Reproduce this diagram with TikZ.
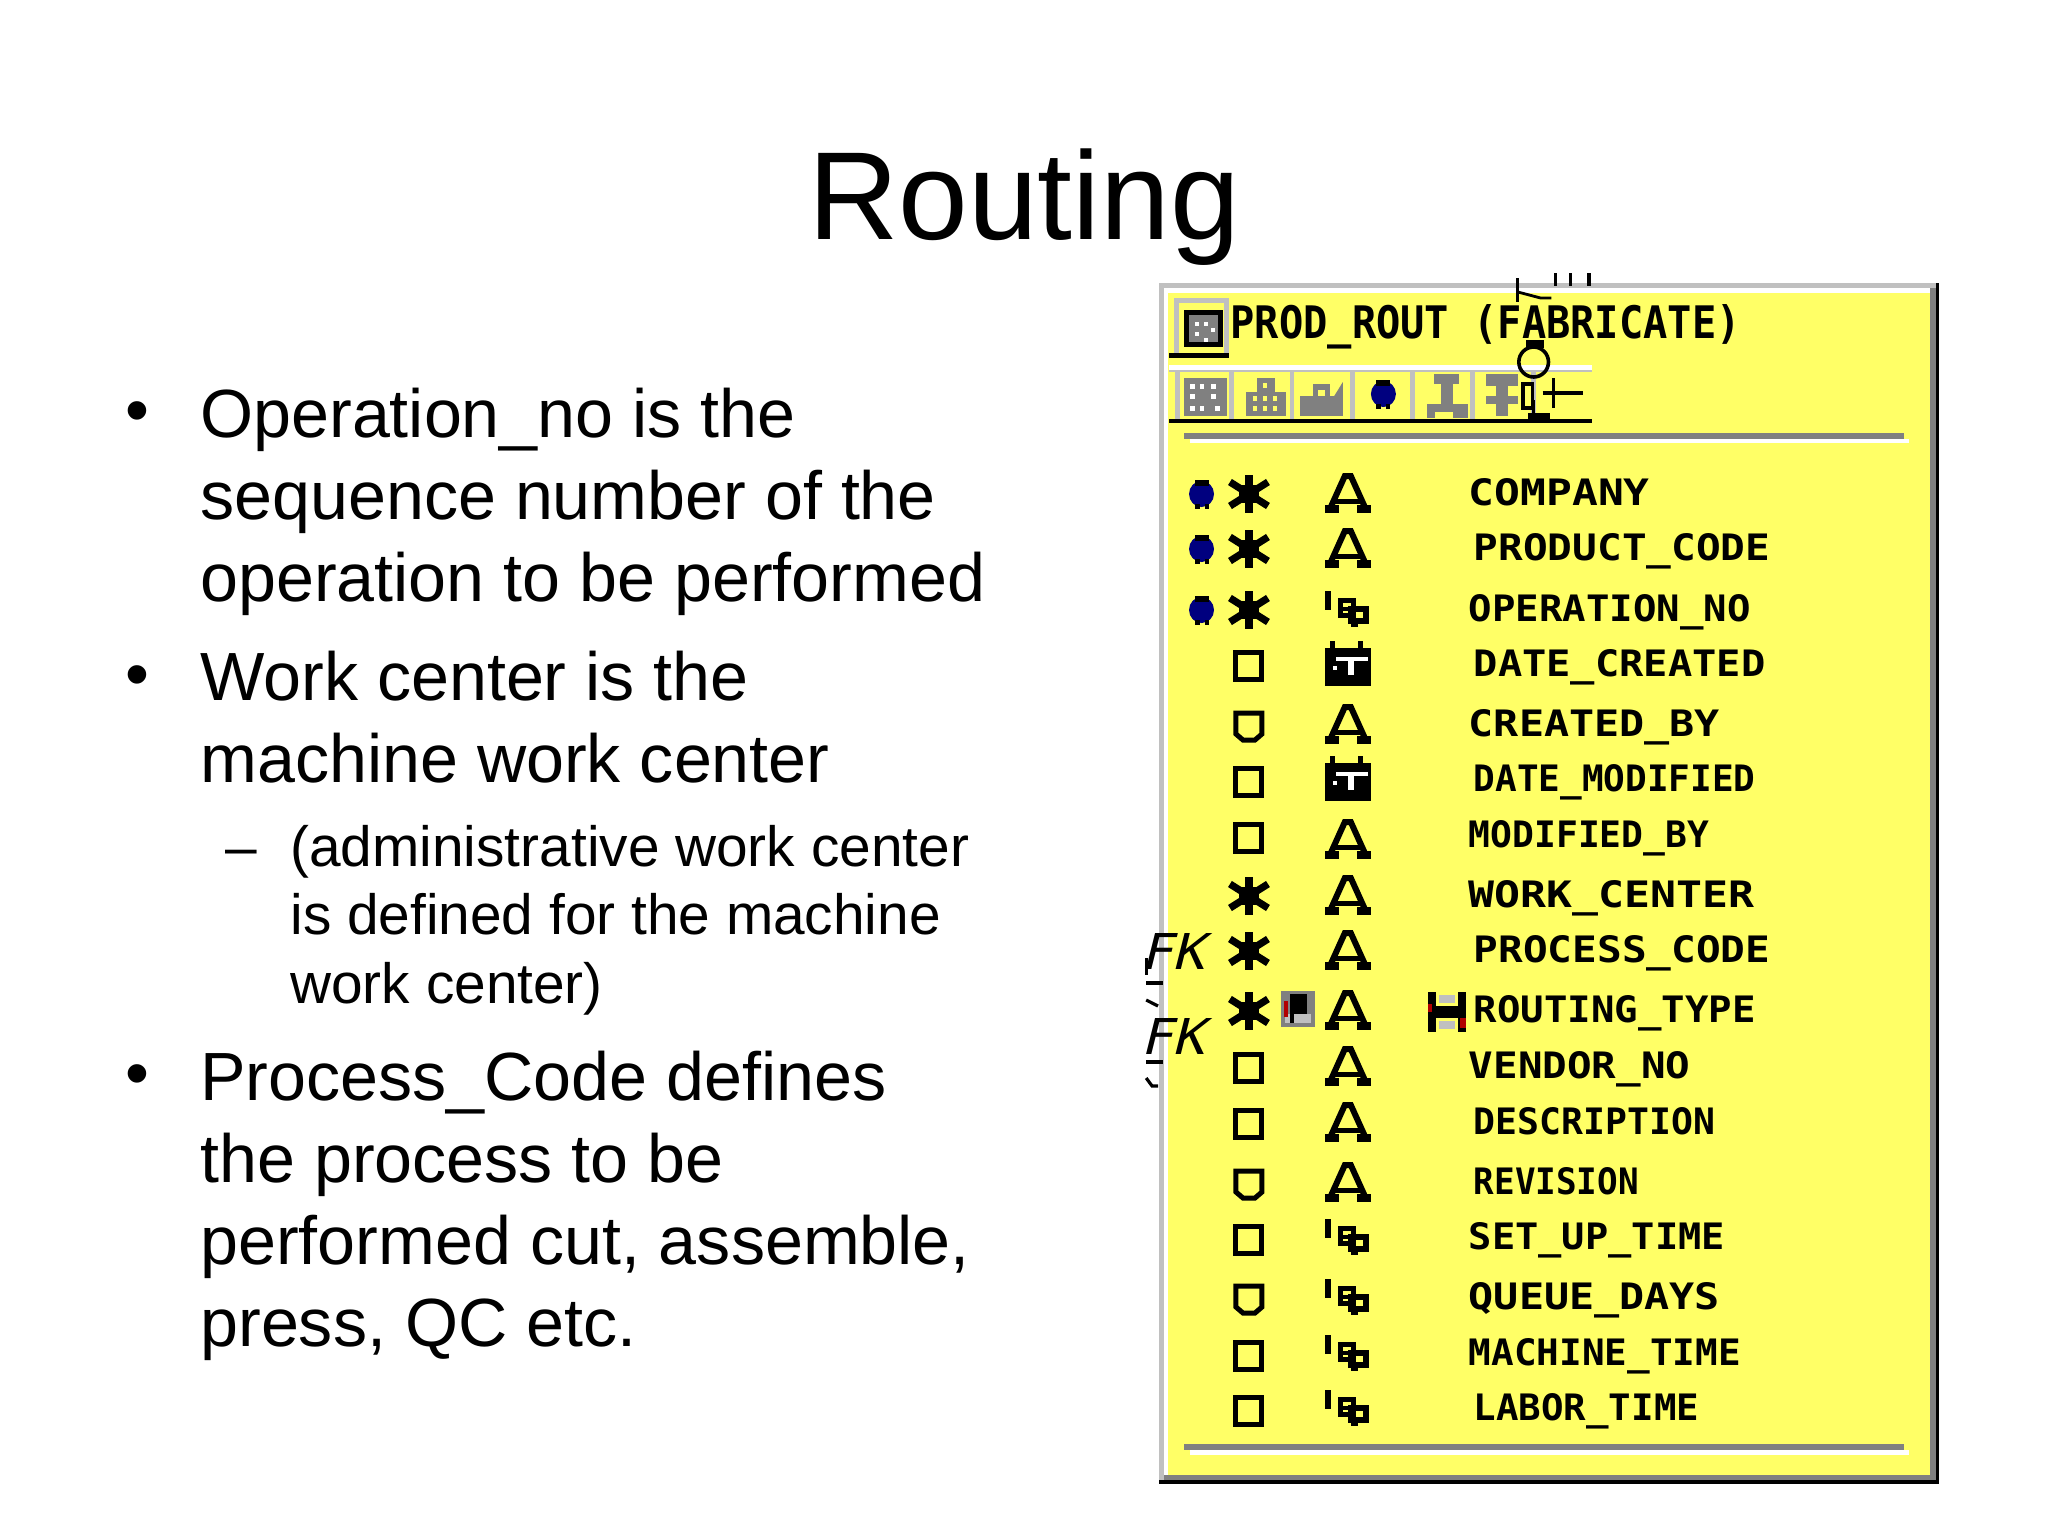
\documentclass[tikz,border=0pt]{standalone}
\usepackage{fontspec}
\usepackage{graphicx}
\setmainfont{Liberation Sans}
\newfontfamily\fldfont{DejaVu Sans Mono}
\definecolor{panelY}{HTML}{FFFF66}
\definecolor{navyD}{HTML}{00007F}
\definecolor{gM}{HTML}{808080}
\definecolor{gL}{HTML}{C0C0C0}
\newcommand{\fieldrow}[5]{\node[fld] (#1) at (#2-2,#4+13) {\resizebox{0.9885\dimexpr #3pt/2-#2pt/2+1pt\relax}{13.5pt}{\fldfont\bfseries #5}};}
\newcommand{\bodyline}[4]{\node[body] (#1) at (#2,#3) {#4};}
\newcommand{\subline}[4]{\node[subbody] (#1) at (#2,#3) {#4};}
\tikzset{
 fld/.style={anchor=base west,inner sep=0pt,text=black},
 body/.style={anchor=base west,inner sep=0pt,font=\fontsize{34.1}{40}\selectfont,text=black},
 subbody/.style={anchor=base west,inner sep=0pt,font=\fontsize{28.4}{34}\selectfont,text=black},
 titletext/.style={anchor=base,inner sep=0pt,font=\fontsize{62.6}{70}\selectfont,text=black},
 fkmark/.style={anchor=base west,inner sep=0pt,text=black},
 stroke5/.style={draw=black,line width=2.5pt,miter limit=10},
 stroke3/.style={draw=black,line width=1.6pt},
 icoA/.pic={
  \draw[stroke5,line width=3pt] (-17,14)--(-3,-17)--(3,-17)--(17,14);
  \draw[stroke5] (-13,8)--(13,8);
  \fill[black] (-23,12) rectangle (-9,20);
  \fill[black] (9,12) rectangle (23,20);
 },
 icoNum/.pic={
  \fill[black] (-23,-18) rectangle (-17,1);
  \draw[stroke3,line width=2.5pt] (-7,-9) rectangle (6,6);
  \draw[stroke3,line width=3pt] (3,0) rectangle (18,12);
  \fill[black] (3,12) rectangle (10,18);
  \fill[black] (-7,-2) rectangle (6,2);
 },
 icoDate/.pic={
  \fill[black] (-23,-15) rectangle (23,23);
  \fill[black] (-18,-22) rectangle (-13,-15);
  \fill[black] (10,-22) rectangle (15,-15);
  \fill[white] (-12,-6) rectangle (20,-2);
  \fill[white] (0,-2) rectangle (6,12);
  \fill[white] (-15,3) rectangle (-11,7);
 },
 icoSq/.pic={\draw[stroke5] (-13,-13) rectangle (13,14);},
 icoQ/.pic={\draw[stroke5] (-13,-13)--(13,-13)--(13,8)--(6,14)--(-6,14)--(-13,8)--cycle;},
 icoStar/.pic={
  \draw[stroke5,line width=3.6pt] (0,-19)--(0,19);
  \draw[stroke5,line width=3.6pt] (-19,-12)--(19,12);
  \draw[stroke5,line width=3.6pt] (-19,12)--(19,-12);
  \fill[black] (-10,-9) rectangle (10,9);
 },
 icoDot/.pic={
  \fill[navyD] (0,0) ellipse (12.5 and 13);
  \fill[black] (-7,-14) rectangle (7,-8);
  \fill[black] (-7,10) rectangle (-2,15);
  \fill[black] (3,10) rectangle (7,15);
 },
 icoDisk/.pic={
  \fill[gM] (-17,-18) rectangle (17,18);
  \fill[gL] (-13,5) rectangle (13,14);
  \fill[black] (-8,-15) rectangle (9,5);
  \fill[black] (-8,5) rectangle (-4,14);
  \fill[red!70!black] (-14,-8) rectangle (-10,8);
 },
 icoH/.pic={
  \fill[black] (-19,-20) rectangle (-11,20);
  \fill[black] (11,-20) rectangle (19,20);
  \fill[black] (-11,-6) rectangle (11,6);
  \fill[gL] (-8,-17) rectangle (8,-9);
  \fill[gL] (-8,9) rectangle (8,17);
  \fill[red!70!black] (-19,-8) rectangle (-15,0);
  \fill[red!70!black] (13,6) rectangle (19,16);
 },
}
\begin{document}
\begin{tikzpicture}[x=0.5pt,y=-0.5pt]
\useasboundingbox (0,0) rectangle (2048,1536);
\fill[white] (0,0) rectangle (2048,1536);
% title and text
\node[titletext] (ttl) at (1024,239) {Routing};
\node[body] (b1) at (125,433) {•};
\bodyline{l1}{200}{437}{Operation\_no is the}
\bodyline{l2}{200}{519}{sequence number of the}
\bodyline{l3}{200}{601}{operation to be performed}
\node[body] (b2) at (125,697) {•};
\bodyline{l4}{200}{700}{Work center is the}
\bodyline{l5}{200}{782}{machine work center}
\node[subbody] (d1) at (225,866) {–};
\subline{s1}{290}{866}{(administrative work center}
\subline{s2}{290}{934}{is defined for the machine}
\subline{s3}{290}{1003}{work center)}
\node[body] (b3) at (125,1096) {•};
\bodyline{l6}{200}{1100}{Process\_Code defines}
\bodyline{l7}{200}{1182}{the process to be}
\bodyline{l8}{200}{1264}{performed cut, assemble,}
\bodyline{l9}{200}{1346}{press, QC etc.}
\begin{scope}[shift={(1159,0)},xscale=0.9885,shift={(-1159,0)}]
% panel
\fill[gL] (1159,283) rectangle (1948,1484);
\fill[white] (1164,288) rectangle (1945,1480);
\fill[panelY] (1168,293) rectangle (1939,1475);
\fill[gM] (1939,288) rectangle (1945,1480);
\fill[black] (1945,283) rectangle (1948,1484);
\fill[gM] (1164,1475) rectangle (1945,1480);
\fill[black] (1159,1480) rectangle (1948,1484);
% rules
\fill[white] (1190,439) rectangle (1918,443);
\fill[gM] (1184,433) rectangle (1913,439);
\fill[white] (1190,1450) rectangle (1918,1455);
\fill[gM] (1184,1444) rectangle (1913,1450);
% header icon
\fill[gL] (1174,298) rectangle (1230,353);
\fill[panelY] (1179,303) rectangle (1230,353);
\fill[gL] (1225,298) rectangle (1230,353);
\fill[black] (1169,353) rectangle (1230,358);
\fill[black] (1184,310) rectangle (1224,347);
\fill[gM] (1189,315) rectangle (1219,342);
\foreach \u/\v in {1195/322,1205/322,1195/332,1212/328,1205/338}{\fill[white] (\u,\v) rectangle +(4,4);}
\node[fld] (hdr) at (1231,338) {\resizebox{255pt}{17pt}{\fldfont\bfseries PROD\_ROUT (FABRICATE)}};
% toolbar
\fill[white] (1169,365) rectangle (1597,370);
\fill[gL] (1169,370) rectangle (1597,372);
\foreach \u in {1230,1291,1352,1413,1474,1535}{\fill[gL] (\u,370) rectangle +(5,50);}
\fill[gL] (1175,370) rectangle +(5,50);
\fill[black] (1169,419) rectangle (1597,423);
% button 1
\fill[gM] (1184,378) rectangle (1228,416);
\foreach \u/\v in {1190/384,1200/384,1212/384,1190/394,1212/394,1190/406,1200/406,1216/406}{\fill[white] (\u,\v) rectangle +(5,5);}
% button 2
\fill[gM] (1247,392) rectangle (1287,416);\fill[gM] (1258,378) rectangle (1276,392);
\foreach \u/\v in {1254/396,1264/396,1274/396,1254/406,1264/406,1274/406,1264/383}{\fill[panelY] (\u,\v) rectangle +(4,5);}
% button 3
\fill[gM] (1302,396) rectangle (1345,416);\fill[gM] (1315,384) rectangle (1332,396);\fill[panelY] (1320,390) rectangle (1327,396);
\fill[gM] (1335,398) -- (1345,382) -- (1345,398) -- cycle;
% button 4
\pic at (1386,394) {icoDot};
% button 5
\fill[gM] (1437,374) rectangle (1462,384);\fill[gM] (1444,384) rectangle (1456,406);\fill[gM] (1432,404) rectangle (1472,412);\fill[gM] (1430,404) rectangle (1438,418);\fill[gM] (1456,404) rectangle (1472,418);
% button 6
\fill[gM] (1490,374) rectangle (1522,386);\fill[gM] (1500,386) rectangle (1512,416);\fill[gM] (1490,396) rectangle (1522,404);
% stray marks at top
\draw[stroke3,line width=1.4pt] (1522,278)--(1522,302);
\draw[stroke3,line width=1.4pt] (1522,292)--(1545,298)--(1556,298);
\draw[stroke3] (1560,273)--(1560,286);
\draw[stroke3] (1575,273)--(1575,286);
\draw[stroke3] (1594,273)--(1594,286);
\draw[stroke3,line width=1.8pt] (1538,362) ellipse (15 and 15);
\fill[black] (1530,340) rectangle (1548,348);
\draw[stroke3,line width=1.8pt] (1527,384) rectangle (1537,408);
\draw[stroke3,line width=1.8pt] (1538,400)--(1538,420);
\fill[black] (1532,413) rectangle (1555,422);
\draw[stroke3,line width=1.8pt] (1547,393)--(1588,393);
\draw[stroke3,line width=1.4pt] (1558,378)--(1558,408);
% rows
\foreach \yy in {492,547,608}{\pic at (1202,\yy+2) {icoDot};}
\foreach \yy in {492,547,608,894,949,1009}{\pic at (1250,\yy+2) {icoStar};}
\foreach \yy in {665,781,837,1067,1123,1239,1355,1410}{\pic at (1250,\yy) {icoSq};}
\foreach \yy in {726,1184,1299}{\pic at (1250,\yy) {icoQ};}
\foreach \yy in {492,547,723,838,894,949,1009,1065,1121,1181}{\pic at (1350,\yy+1) {icoA};}
\foreach \yy in {608,1236,1296,1352,1407}{\pic at (1350,\yy+1) {icoNum};}
\foreach \yy in {663,778}{\pic at (1350,\yy) {icoDate};}
\pic at (1300,1009) {icoDisk};
\pic at (1450,1012) {icoH};
\fieldrow{f1}{1474}{1655}{492}{COMPANY}
\fieldrow{f2}{1479}{1777}{547}{PRODUCT\_CODE}
\fieldrow{f3}{1474}{1757}{608}{OPERATION\_NO}
\fieldrow{f4}{1479}{1772}{663}{DATE\_CREATED}
\fieldrow{f5}{1474}{1726}{723}{CREATED\_BY}
\fieldrow{f6}{1479}{1762}{778}{DATE\_MODIFIED}
\fieldrow{f7}{1474}{1715}{834}{MODIFIED\_BY}
\fieldrow{f8}{1474}{1761}{894}{WORK\_CENTER}
\fieldrow{f9}{1479}{1777}{949}{PROCESS\_CODE}
\fieldrow{f10}{1479}{1762}{1009}{ROUTING\_TYPE}
\fieldrow{f11}{1474}{1696}{1065}{VENDOR\_NO}
\fieldrow{f12}{1479}{1721}{1121}{DESCRIPTION}
\fieldrow{f13}{1479}{1644}{1181}{REVISION}
\fieldrow{f14}{1474}{1731}{1236}{SET\_UP\_TIME}
\fieldrow{f15}{1474}{1726}{1296}{QUEUE\_DAYS}
\fieldrow{f16}{1474}{1747}{1352}{MACHINE\_TIME}
\fieldrow{f17}{1479}{1705}{1407}{LABOR\_TIME}
% FK
\node[fkmark,xslant=0.25] (fk1) at (1140,969) {\resizebox{32pt}{18pt}{\fldfont FK}};
\node[fkmark,xslant=0.25] (fk2) at (1140,1054) {\resizebox{32pt}{18pt}{\fldfont FK}};
\draw[stroke3] (1146,958)--(1146,975);
\draw[stroke3] (1146,983)--(1163,983);
\draw[stroke3] (1146,1000)--(1158,1006);
\draw[stroke3] (1146,1062)--(1163,1062);
\draw[stroke3] (1146,1078)--(1152,1086)--(1158,1086);
\end{scope}
\end{tikzpicture}
\end{document}
